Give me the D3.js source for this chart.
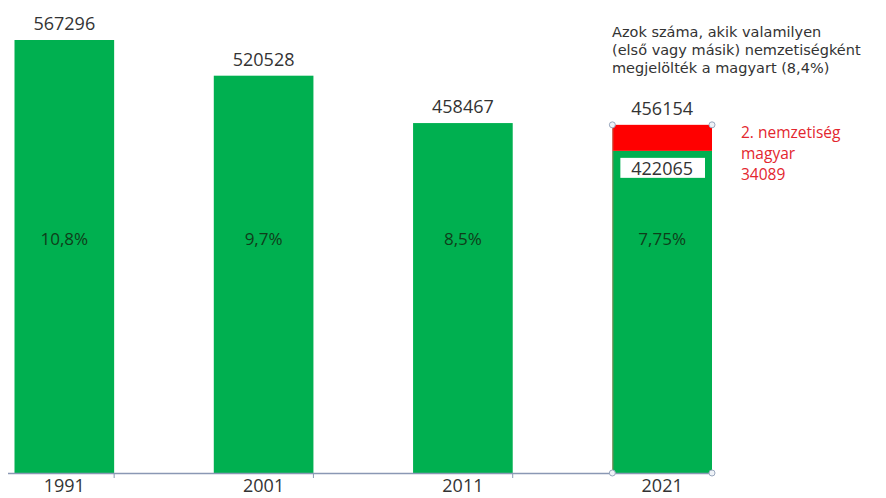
<!DOCTYPE html>
<html>
<head>
<meta charset="utf-8">
<script src="https://cdn.jsdelivr.net/npm/d3@7"></script>
<style>
  html, body { margin: 0; padding: 0; background: #ffffff; }
  svg { display: block; font-family: "Open Sans", sans-serif; }
</style>
</head>
<body>
<svg id="chart" width="886" height="498"></svg>
<script>
// ---- data ----
const years = ["1991", "2001", "2011", "2021"];
const totals = [567296, 520528, 458467, 456154];
const firstNationality = [567296, 520528, 458467, 422065];
const secondNationality = [0, 0, 0, 34089];
const shareLabels = ["10,8%", "9,7%", "8,5%", "7,75%"];
const noteLines = ["Azok száma, akik valamilyen", "(első vagy másik) nemzetiségként", "megjelölték a magyart (8,4%)"];
const secondLabelLines = ["2. nemzetiség", "magyar", "34089"];

const svg = d3.select("#chart");
const green = "#00b050", red = "#ff0000";

const x = d3.scaleBand().domain(years).range([14.5, 712]).paddingInner(0.5).paddingOuter(0);
const y = d3.scaleLinear().domain([0, d3.max(totals)]).range([473, 40]);
const bw = x.bandwidth();

const rows = years.map((yr, i) => ({ yr, total: totals[i], first: firstNationality[i], second: secondNationality[i], share: shareLabels[i] }));

// green bars (first nationality)
svg.selectAll("rect.g").data(rows).enter().append("rect")
  .attr("x", d => x(d.yr)).attr("width", bw)
  .attr("y", d => y(d.first)).attr("height", d => y(0) - y(d.first))
  .attr("fill", green);

// red stacked part (second nationality)
svg.selectAll("rect.r").data(rows.filter(d => d.second > 0)).enter().append("rect")
  .attr("x", d => x(d.yr)).attr("width", bw)
  .attr("y", d => y(d.first + d.second)).attr("height", d => y(d.first) - y(d.first + d.second))
  .attr("fill", red);

// axis line
svg.append("line").attr("x1", 8).attr("x2", x(years[3]) + bw)
  .attr("y1", y(0) + 0.5).attr("y2", y(0) + 0.5)
  .attr("stroke", "#8a98b4").attr("stroke-width", 1.5);
svg.selectAll("line.tick").data(years.slice(0, 3)).enter().append("line")
  .attr("x1", d => x(d) + bw).attr("x2", d => x(d) + bw)
  .attr("y1", y(0)).attr("y2", y(0) + 5)
  .attr("stroke", "#8a98b4").attr("stroke-width", 1);

// selection outline on last bar
const last = rows[3];
svg.append("line").attr("x1", x(last.yr) + 0.5).attr("x2", x(last.yr) + 0.5)
  .attr("y1", y(last.total)).attr("y2", y(0))
  .attr("stroke", "#b07a5a").attr("stroke-width", 1).attr("opacity", 0.8);
const handles = [[x(last.yr), y(last.total)], [x(last.yr) + bw, y(last.total)], [x(last.yr), y(0)], [x(last.yr) + bw, y(0)]];
svg.selectAll("circle.h").data(handles).enter().append("circle")
  .attr("cx", d => d[0]).attr("cy", d => d[1]).attr("r", 3)
  .attr("fill", "#eef2f7").attr("stroke", "#9aa8be").attr("stroke-width", 1);

// value labels on top
svg.selectAll("text.v").data(rows).enter().append("text")
  .attr("x", d => x(d.yr) + bw / 2).attr("y", d => y(d.total) - 10)
  .attr("text-anchor", "middle").attr("font-size", 18).attr("fill", "#333333")
  .text(d => d.total);

// share labels inside bars
svg.selectAll("text.s").data(rows).enter().append("text")
  .attr("x", d => x(d.yr) + bw / 2).attr("y", 245)
  .attr("text-anchor", "middle").attr("font-size", 17).attr("fill", "#0f3d1a")
  .text(d => d.share);

// first nationality label box on last bar
svg.append("rect").attr("x", x(last.yr) + 8).attr("width", bw - 15)
  .attr("y", y(last.first) + 7).attr("height", 20).attr("fill", "#ffffff");
svg.append("text").attr("x", x(last.yr) + bw / 2).attr("y", y(last.first) + 24)
  .attr("text-anchor", "middle").attr("font-size", 18).attr("fill", "#333333")
  .text(last.first);

// year labels
svg.selectAll("text.yr").data(years).enter().append("text")
  .attr("x", d => x(d) + bw / 2).attr("y", 492)
  .attr("text-anchor", "middle").attr("font-size", 18).attr("fill", "#333333")
  .text(d => d);

// note
svg.append("text").attr("font-family", "DejaVu Sans, sans-serif").attr("font-size", 14.5).attr("fill", "#333333")
  .selectAll("tspan").data(noteLines).enter().append("tspan")
  .attr("x", 612).attr("y", (d, i) => 37 + i * 18).text(d => d);

// second nationality label
svg.append("text").attr("font-size", 15.5).attr("fill", "#e3262e")
  .selectAll("tspan").data(secondLabelLines).enter().append("tspan")
  .attr("x", 741).attr("y", (d, i) => 138 + i * 21).text(d => d);
</script>
</body>
</html>
